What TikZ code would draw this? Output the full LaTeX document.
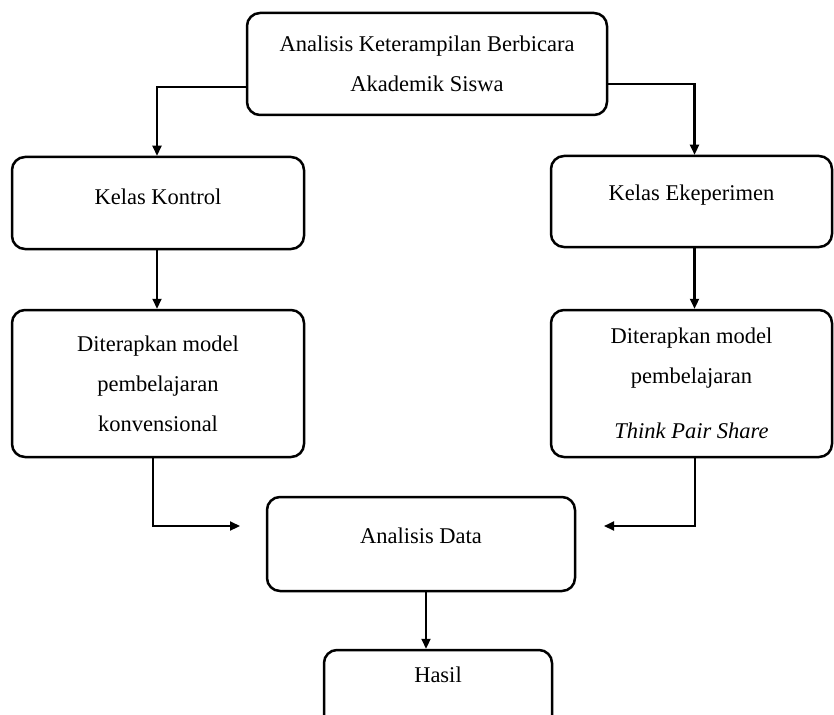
\documentclass[tikz,border=0pt]{standalone}
\usepackage{fontspec}
\setmainfont{Liberation Serif}
\usetikzlibrary{arrows.meta}
\begin{document}
\begin{tikzpicture}[x=1pt,y=-1pt,
  box/.style={draw=black, line width=2.5pt, rounded corners=13pt, align=center,
    font=\fontsize{22.5}{40}\selectfont, inner sep=0pt},
  arr/.style={draw=black, line width=2.2pt, -{Triangle[length=10pt,width=9pt]}}]
\useasboundingbox (0,0) rectangle (834,714);
\clip (0,0) rectangle (834,714);
\fill[white] (0,0) rectangle (834,714);

\node[box, minimum width=360pt, minimum height=102pt] (top) at (427,64)
  {Analisis Keterampilan Berbicara\\Akademik Siswa};
\node[box, minimum width=292pt, minimum height=92pt, text depth=12pt] (kk) at (158,203) {Kelas Kontrol};
\node[box, minimum width=281pt, minimum height=91pt, text depth=17pt] (ke) at (691.5,201.5) {Kelas Ekeperimen};
\node[box, minimum width=292pt, minimum height=147pt] (dl) at (158,383.5)
  {Diterapkan model\\pembelajaran\\konvensional};
\node[box, minimum width=281pt, minimum height=147pt] (dr) at (691.5,383.5)
  {Diterapkan model\\pembelajaran\\[15pt]\textit{Think Pair Share}};
\node[box, minimum width=308pt, minimum height=94pt, text depth=16pt] (ad) at (421,544) {Analisis Data};
\node[box, minimum width=228pt, minimum height=90pt, text depth=40pt] (hasil) at (438,695) {Hasil};

\coordinate (inL) at (240,526);
\coordinate (inR) at (604,526);

\draw[arr] ([yshift=-23pt]top.west) -| ([xshift=-1pt]kk.north);
\draw[arr] ([yshift=-20pt]top.east) -| ([xshift=3pt]ke.north);
\draw[arr] ([xshift=-1pt]kk.south) -- ([xshift=-1pt]dl.north);
\draw[arr] ([xshift=3pt]ke.south) -- ([xshift=3pt]dr.north);
\draw[arr] ([xshift=-5pt]dl.south) |- (inL);
\draw[arr] ([xshift=3.5pt]dr.south) |- (inR);
\draw[arr] ([xshift=5pt]ad.south) -- ([xshift=5pt]ad.south |- hasil.north);
\end{tikzpicture}
\end{document}
